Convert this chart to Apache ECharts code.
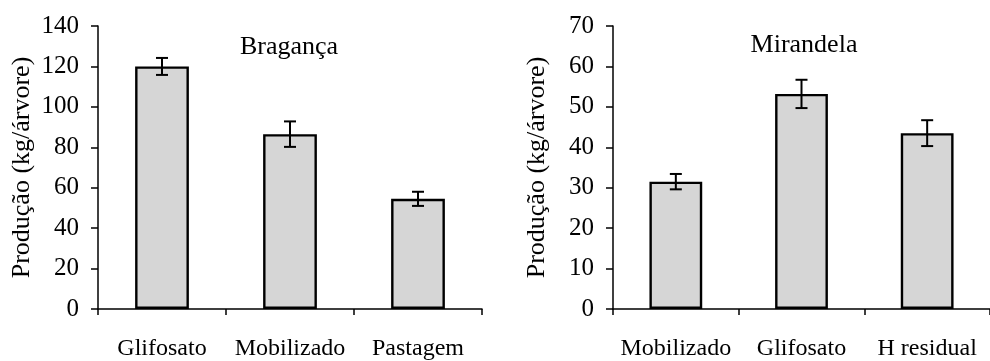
<!DOCTYPE html>
<html>
<head>
<meta charset="utf-8">
<script src="https://cdn.jsdelivr.net/npm/echarts@6/dist/echarts.min.js"></script>
<style>html,body{margin:0;padding:0;background:#fff}#c{width:990px;height:361px}</style>
</head>
<body>
<div id="c"></div>
<script>
var catsA = ['Glifosato', 'Mobilizado', 'Pastagem'];
var valsA = [120, 86.5, 54.5];
var errA = [4.2, 6.3, 3.5];
var ticksA = {min: 0, max: 140, interval: 20};

var catsB = ['Mobilizado', 'Glifosato', 'H residual'];
var valsB = [31.5, 53.2, 43.5];
var errB = [1.9, 3.5, 3.2];
var ticksB = {min: 0, max: 70, interval: 10};

var titleA = 'Bragança';
var titleB = 'Mirandela';
var yName = 'Produção (kg/árvore)';

var FONT = '"Liberation Serif", "DejaVu Serif", serif';
var INK = '#000';

function errItem(params, api) {
  var x = api.value(0), lo = api.value(1), hi = api.value(2);
  var pHi = api.coord([x, hi]), pLo = api.coord([x, lo]);
  var cap = 6;
  var st = {stroke: INK, lineWidth: 2};
  return {type: 'group', children: [
    {type: 'line', shape: {x1: pHi[0], y1: pHi[1], x2: pLo[0], y2: pLo[1]}, style: st},
    {type: 'line', shape: {x1: pHi[0]-cap, y1: pHi[1], x2: pHi[0]+cap, y2: pHi[1]}, style: st},
    {type: 'line', shape: {x1: pLo[0]-cap, y1: pLo[1], x2: pLo[0]+cap, y2: pLo[1]}, style: st}
  ]};
}
function errData(vals, errs) {
  return vals.map(function (v, i) { return [i, v - errs[i], v + errs[i]]; });
}
function xAx(cats, gi) {
  return {type: 'category', gridIndex: gi, data: cats,
    axisLine: {lineStyle: {color: INK, width: 1.5}},
    axisTick: {show: true, interval: 0, length: 6, lineStyle: {color: INK, width: 1.5}},
    axisLabel: {interval: 0, color: INK, fontFamily: FONT, fontSize: 24, margin: 28}};
}
function yAx(t, gi) {
  return {type: 'value', gridIndex: gi, min: t.min, max: t.max, interval: t.interval,
    name: yName, nameLocation: 'middle', nameGap: 63, nameRotate: 90,
    nameTextStyle: {color: INK, fontFamily: FONT, fontSize: 26},
    splitLine: {show: false},
    axisLine: {show: true, lineStyle: {color: INK, width: 1.5}},
    axisTick: {show: true, length: 7, lineStyle: {color: INK, width: 1.5}},
    axisLabel: {color: INK, fontFamily: FONT, fontSize: 25, margin: 19}};
}
function barS(vals, gi) {
  return {type: 'bar', xAxisIndex: gi, yAxisIndex: gi, data: vals, barWidth: '42%',
    itemStyle: {color: '#d6d6d6', borderColor: INK, borderWidth: 2.4}, animation: false};
}
function errS(vals, errs, gi) {
  return {type: 'custom', xAxisIndex: gi, yAxisIndex: gi, renderItem: errItem,
    data: errData(vals, errs), z: 5, animation: false};
}

var chart = echarts.init(document.getElementById('c'));
chart.setOption({
  animation: false,
  backgroundColor: '#fff',
  title: [
    {text: titleA, left: 284, top: 29, textAlign: 'center',
      textStyle: {color: INK, fontFamily: FONT, fontSize: 26, fontWeight: 'normal'}},
    {text: titleB, left: 799, top: 27, textAlign: 'center',
      textStyle: {color: INK, fontFamily: FONT, fontSize: 26, fontWeight: 'normal'}}
  ],
  grid: [
    {left: 98, top: 26, width: 384, height: 285, containLabel: false},
    {left: 613, top: 26, width: 385, height: 285, containLabel: false}
  ],
  xAxis: [xAx(catsA, 0), xAx(catsB, 1)],
  yAxis: [yAx(ticksA, 0), yAx(ticksB, 1)],
  series: [barS(valsA, 0), errS(valsA, errA, 0), barS(valsB, 1), errS(valsB, errB, 1)]
});
</script>
</body>
</html>
